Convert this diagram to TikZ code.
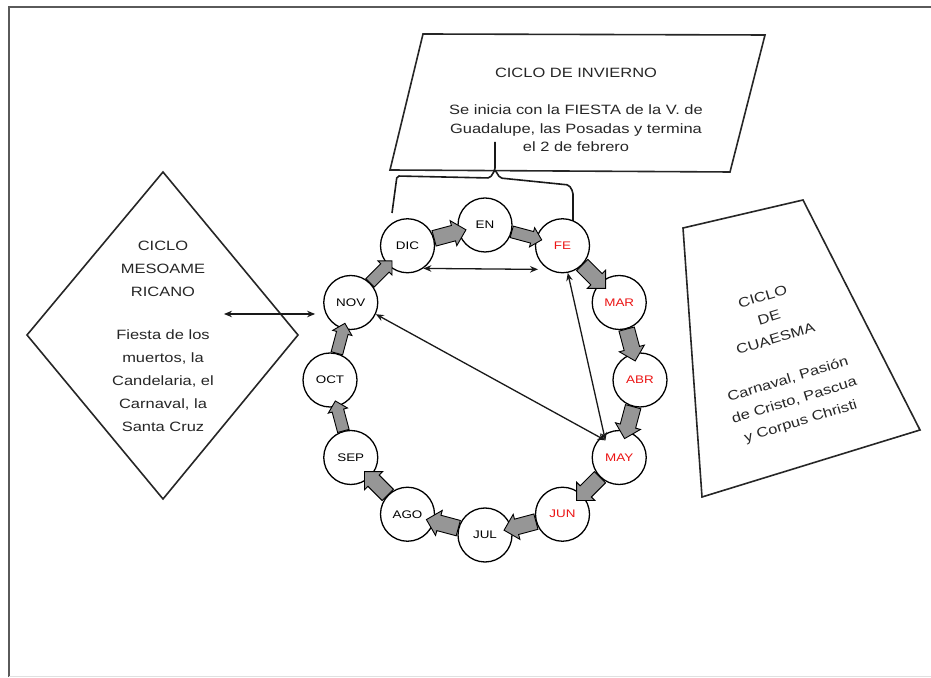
\documentclass[tikz,border=0pt]{standalone}
\usepackage{fontspec}
\setmainfont{Liberation Sans}[FakeStretch=1.22]
\usetikzlibrary{shapes.arrows,arrows.meta,calc}
\definecolor{arrowgray}{RGB}{150,150,150}
\definecolor{framegray}{RGB}{90,90,90}
\definecolor{monthred}{RGB}{235,20,20}

\begin{document}
\begin{tikzpicture}[x=1pt,y=1pt,
  month/.style={circle,draw=black,line width=1.3pt,fill=white,minimum size=54pt,
    inner sep=0pt,font=\fontsize{11}{13}\selectfont},
  hot/.style={text=monthred},
  flow/.style={single arrow,draw=black,line width=0.9pt,fill=arrowgray,
    inner xsep=0pt,inner ysep=7.5pt,minimum height=33pt,single arrow head extend=5pt},
  flowsmall/.style={flow,inner ysep=5.5pt,single arrow head extend=4pt,minimum height=31pt},
  panel/.style={draw=black!85,line width=1.6pt,fill=white,line join=miter},
  brace/.style={draw=black!90,line width=1.6pt,rounded corners=2pt},
  link/.style={draw=black!90,line width=1.3pt,
    {Stealth[length=8pt,width=6.5pt]}-{Stealth[length=8pt,width=6.5pt]}},
  label/.style={align=center,text=black!85,font=\fontsize{13.5}{18.5}\selectfont}
]
\useasboundingbox (0,0) rectangle (931,677);

% page frame
\draw[framegray,line width=2.6pt] (9,0) -- (9,670) -- (931,670);
\draw[black!12,line width=0.8pt] (9,0.6) -- (931,0.6);

% outer panels
\draw[panel] (423,643) coordinate (invTL) -- (765,642) coordinate (invTR)
  -- (730,505) coordinate (invBR) -- (390,507) coordinate (invBL) -- cycle;
\draw[panel] (163,505) coordinate (mesoT) -- (298,342) coordinate (mesoR)
  -- (163,178) coordinate (mesoB) -- (27,342) coordinate (mesoL) -- cycle;
\draw[panel] (683,449) coordinate (cuaTL) -- (803,477) coordinate (cuaTR)
  -- (920,247) coordinate (cuaBR) -- (702,180) coordinate (cuaBL) -- cycle;

% brace joining the winter cycle to December and February
\coordinate (braceTip) at (495,535);
\coordinate (braceL) at (392,464);
\coordinate (braceR) at (573,455);
\draw[brace] (braceL) -- (397,501) -- (490,499) -- (495,507) -- (braceTip);
\draw[brace] (495,507) -- (500,499) -- (569,492) -- (573,485) -- (braceR);

% the twelve months
\coordinate (ring) at (485,297);
\node[month]     (EN)  at ($(ring)+(90:155)$)  {EN};
\node[month,hot] (FE)  at ($(ring)+(60:155)$)  {FE};
\node[month,hot] (MAR) at ($(ring)+(30:155)$)  {MAR};
\node[month,hot] (ABR) at ($(ring)+(0:155)$)   {ABR};
\node[month,hot] (MAY) at ($(ring)+(-30:155)$) {MAY};
\node[month,hot] (JUN) at ($(ring)+(-60:155)$) {JUN};
\node[month]     (JUL) at ($(ring)+(-90:155)$) {JUL};
\node[month]     (AGO) at ($(ring)+(-120:155)$) {AGO};
\node[month]     (SEP) at ($(ring)+(-150:155)$) {SEP};
\node[month]     (OCT) at ($(ring)+(180:155)$) {OCT};
\node[month]     (NOV) at ($(ring)+(150:155)$) {NOV};
\node[month]     (DIC) at ($(ring)+(120:155)$) {DIC};

% block arrows running clockwise from month to month
\node[flow,rotate=15]       (a1)  at ($(ring)+(105:150)$) {};
\node[flowsmall,rotate=-15] (a2)  at ($(ring)+(75:150)$)  {};
\node[flow,rotate=-45]      (a3)  at ($(ring)+(45:150)$)  {};
\node[flow,rotate=-75]      (a4)  at ($(ring)+(15:150)$)  {};
\node[flow,rotate=-105]     (a5)  at ($(ring)+(-15:150)$) {};
\node[flow,rotate=-135]     (a6)  at ($(ring)+(-45:150)$) {};
\node[flow,rotate=-165]     (a7)  at ($(ring)+(-75:150)$) {};
\node[flow,rotate=165]      (a8)  at ($(ring)+(-105:150)$) {};
\node[flow,rotate=135]      (a9)  at ($(ring)+(-135:150)$) {};
\node[flowsmall,rotate=105] (a10) at ($(ring)+(-165:150)$) {};
\node[flowsmall,rotate=75]  (a11) at ($(ring)+(165:150)$) {};
\node[flowsmall,rotate=45]  (a12) at ($(ring)+(135:150)$) {};

% two-way links
\coordinate (mesoIn) at (224,363);
\draw[link] (mesoIn) -- ([shift={(-8,-11.5)}]NOV.west);
\draw[link] (DIC.-55) -- ($(FE)+(224:34)$);
\draw[link] (NOV.-25) -- ($(MAY)+(129:22)$);
\draw[link] (FE.-79) -- ($(MAY)+(129:22)$);

% panel texts
\node[label] (invText) at (576,567)
  {CICLO DE INVIERNO\\[18.5pt]Se inicia con la FIESTA de la V. de\\Guadalupe, las Posadas y termina\\el 2 de febrero};
\node[label,font=\fontsize{13.5}{23}\selectfont] (mesoText) at (163,341)
  {CICLO\\MESOAME\\RICANO\\[20pt]Fiesta de los\\muertos, la\\Candelaria, el\\Carnaval, la\\Santa Cruz};
\node[label,font=\fontsize{13.5}{22}\selectfont,rotate=17] (cuaText) at (782,317)
  {CICLO\\DE\\CUAESMA\\[20pt]Carnaval, Pasión\\de Cristo, Pascua\\y Corpus Christi};
\end{tikzpicture}
\end{document}
